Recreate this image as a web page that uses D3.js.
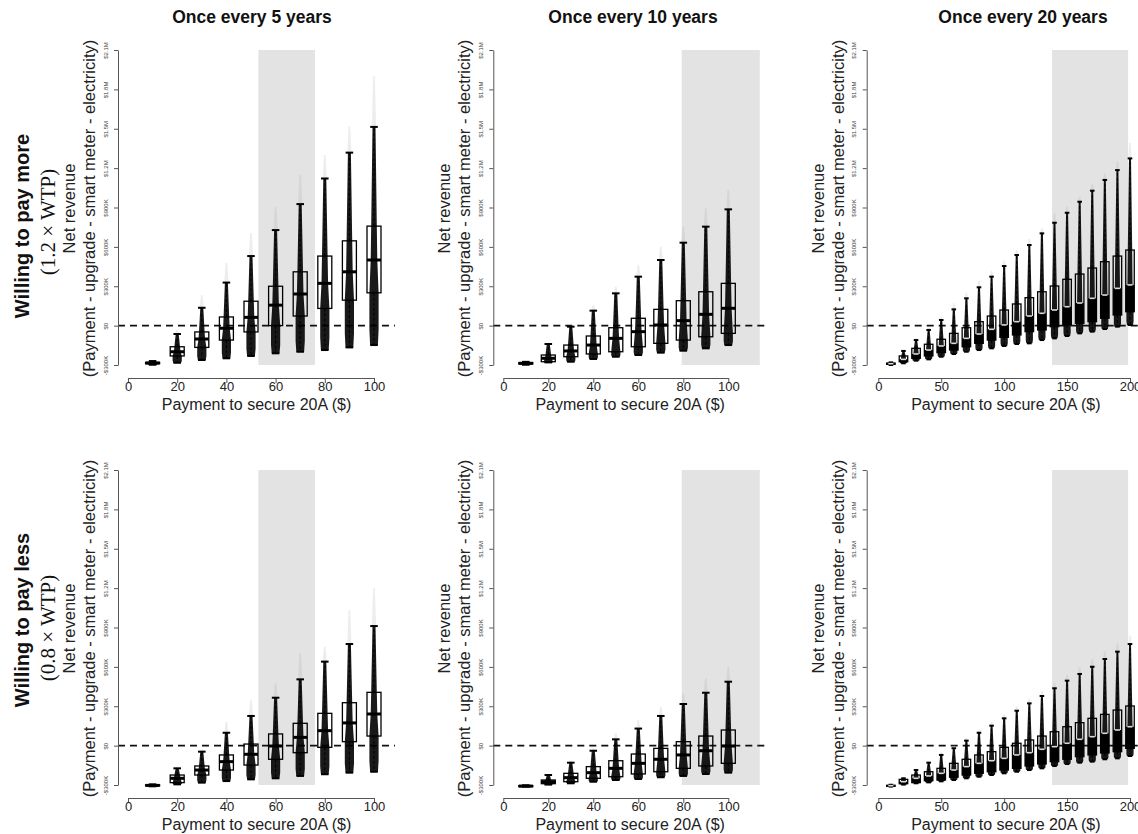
<!DOCTYPE html>
<html>
<head>
<meta charset="utf-8">
<script src="https://cdn.jsdelivr.net/npm/d3@7"></script>
<style>
  body { margin: 0; background: #fff; }
  svg { display: block; font-family: "Liberation Sans", Arial, sans-serif; }
</style>
</head>
<body>
<svg id="chart" width="1138" height="834"></svg>
<script>
// payments ($) for each box
var payments = [10, 20, 30, 40, 50, 60, 70, 80, 90, 100];
var payments20 = [10, 20, 30, 40, 50, 60, 70, 80, 90, 100, 110, 120, 130, 140, 150, 160, 170, 180, 190, 200];

// net revenue in $K, each row: [whisker low, Q1, median, Q3, whisker high, max point]
var more5 = [
  [-298, -290, -285, -280, -270, -266],
  [-283, -231, -199, -161, -64, -34],
  [-262, -166, -102, -48, 136, 233],
  [-249, -110, -20, 66, 328, 477],
  [-231, -48, 63, 186, 530, 706],
  [-211, 0, 156, 300, 728, 904],
  [-199, 73, 241, 410, 926, 1150],
  [-186, 131, 322, 530, 1121, 1300],
  [-166, 194, 410, 646, 1318, 1520],
  [-148, 250, 500, 758, 1514, 1900]
];
var more10 = [
  [-298, -292, -287, -282, -276, -272],
  [-280, -275, -249, -224, -140, -130],
  [-275, -237, -193, -148, -8, 10],
  [-254, -216, -148, -79, 114, 157],
  [-237, -199, -97, -16, 246, 297],
  [-224, -161, -46, 56, 373, 462],
  [-206, -135, 5, 124, 500, 601],
  [-191, -110, 38, 190, 632, 754],
  [-173, -85, 86, 258, 754, 894],
  [-148, -59, 132, 322, 886, 1033]
];
var more20 = [
  [-300, -295, -290, -285, -280, -276],
  [-287, -275, -257, -231, -193, -185],
  [-267, -249, -216, -173, -110, -95],
  [-257, -231, -186, -142, -33, -15],
  [-237, -206, -155, -104, 43, 65],
  [-216, -186, -135, -59, 124, 170],
  [-199, -161, -97, -16, 208, 251],
  [-186, -135, -64, 30, 292, 340],
  [-173, -110, -28, 73, 373, 419],
  [-155, -89, 5, 119, 454, 495],
  [-140, -71, 30, 165, 538, 576],
  [-135, -46, 73, 213, 614, 660],
  [-110, -33, 94, 258, 703, 741],
  [-97, -8, 119, 302, 784, 856],
  [-79, 5, 144, 353, 860, 906],
  [-59, 18, 172, 393, 944, 982],
  [-46, 30, 208, 439, 1028, 1080],
  [-26, 56, 233, 487, 1110, 1160],
  [-8, 81, 284, 530, 1185, 1250],
  [5, 106, 310, 576, 1274, 1391]
];
var less5 = [
  [-310, -306, -303, -299, -295, -292],
  [-295, -282, -249, -224, -173, -160],
  [-282, -224, -186, -155, -46, -30],
  [-270, -186, -122, -71, 98, 182],
  [-257, -148, -66, 12, 226, 348],
  [-249, -104, -3, 89, 365, 475],
  [-231, -54, 63, 170, 505, 703],
  [-218, -13, 114, 246, 640, 754],
  [-206, 30, 173, 327, 774, 1033],
  [-199, 73, 241, 406, 911, 1199]
];
var less10 = [
  [-312, -310, -308, -305, -302, -300],
  [-297, -290, -275, -262, -224, -215],
  [-287, -275, -244, -211, -130, -115],
  [-275, -249, -206, -160, -39, -20],
  [-262, -237, -173, -115, 48, 94],
  [-254, -216, -135, -64, 130, 195],
  [-241, -199, -104, -21, 226, 297],
  [-231, -173, -71, 30, 317, 399],
  [-216, -155, -39, 73, 403, 513],
  [-206, -135, -3, 119, 487, 601]
];
var less20 = [
  [-312, -308, -305, -302, -298, -295],
  [-297, -290, -275, -257, -249, -240],
  [-287, -282, -249, -224, -186, -175],
  [-280, -267, -231, -199, -130, -115],
  [-272, -262, -211, -173, -71, -50],
  [-262, -241, -186, -135, -20, 5],
  [-249, -224, -160, -104, 38, 60],
  [-237, -211, -135, -71, 98, 125],
  [-224, -199, -115, -46, 152, 180],
  [-211, -186, -97, -13, 208, 240],
  [-199, -173, -71, 18, 266, 300],
  [-186, -155, -54, 43, 322, 360],
  [-173, -140, -28, 73, 378, 420],
  [-155, -122, -8, 106, 437, 480],
  [-140, -104, 18, 144, 495, 540],
  [-130, -84, 48, 175, 546, 600],
  [-122, -71, 68, 208, 601, 660],
  [-104, -56, 94, 238, 660, 720],
  [-97, -46, 119, 271, 716, 780],
  [-79, -21, 144, 302, 774, 840]
];

// shaded payment ranges per column
var shades = [[53, 76], [79.3, 114], [138, 198.5]];

var colTitles = ["Once every 5 years", "Once every 10 years", "Once every 20 years"];
var rowTitles = ["Willing  to pay more", "Willing  to pay less"];
var rowSubs = ["(1.2 \u00D7 WTP)", "(0.8 \u00D7 WTP)"];
var yTicks = [-300, 0, 300, 600, 900, 1200, 1500, 1800, 2100];
var yTickLabels = ["-$300K", "$0", "$300K", "$600K", "$900K", "$1.2M", "$1.5M", "$1.8M", "$2.1M"];

var svg = d3.select("#chart");

var cols = [
  { x0: 128, x1: 374, dom: [0, 100], axisX: 118, right: 395, ticks: [0, 20, 40, 60, 80, 100], boxW: 14, cats: payments, titleX: 252 },
  { x0: 503.3, x1: 728.3, dom: [0, 100], axisX: 493.3, right: 767, ticks: [0, 20, 40, 60, 80, 100], boxW: 14, cats: payments, titleX: 633 },
  { x0: 878.3, x1: 1130, dom: [0, 200], axisX: 866.7, right: 1145, ticks: [0, 50, 100, 150, 200], boxW: 8.5, cats: payments20, titleX: 1023 }
];
var rows = [
  { top: 50, bottom: 365, labelY: 226 },
  { top: 470, bottom: 785, labelY: 620 }
];
var panelData = [[more5, more10, more20], [less5, less10, less20]];

function drawPanel(ci, ri) {
  var col = cols[ci], row = rows[ri], data = panelData[ri][ci];
  var narrowStyle = ci === 2;
  var x = d3.scaleLinear().domain(col.dom).range([col.x0, col.x1]);
  var y = d3.scaleLinear().domain([-300, 2100]).range([row.bottom, row.top]);
  var g = svg.append("g");

  // shaded band
  g.append("rect")
    .attr("x", x(shades[ci][0]))
    .attr("width", x(shades[ci][1]) - x(shades[ci][0]))
    .attr("y", y(2100))
    .attr("height", y(-300) - y(2100))
    .attr("fill", "#e3e3e3");

  // zero line
  g.append("line")
    .attr("x1", col.axisX).attr("x2", col.right)
    .attr("y1", y(0)).attr("y2", y(0))
    .attr("stroke", "#111").attr("stroke-width", 1.8)
    .attr("stroke-dasharray", "7,5");

  var wide = narrowStyle ? 3.6 : 4.6;
  var mid = narrowStyle ? 2.6 : 3.3;
  var thin = narrowStyle ? 1 : 1.5;

  var area = d3.area()
    .y(function (d) { return y(d.v); })
    .x0(function (d) { return d.c - d.w; })
    .x1(function (d) { return d.c + d.w; });

  data.forEach(function (d, i) {
    var cx = x(col.cats[i]);
    var bw = col.boxW;
    var lo = d[0], q1 = d[1], med = d[2], q3 = d[3], hi = d[4], mx = d[5];

    // faint points above the whisker
    g.append("path")
      .attr("d", area([{ v: hi, w: thin + 0.6, c: cx }, { v: mx, w: 0.8, c: cx }]))
      .attr("fill", "#9a9a9a").attr("opacity", 0.18);

    // dense points
    g.append("path")
      .attr("d", area([
        { v: lo, w: wide * 0.85, c: cx },
        { v: lo + (q1 - lo) * 0.3, w: wide, c: cx },
        { v: q1, w: wide, c: cx },
        { v: med, w: mid, c: cx },
        { v: q3, w: mid * 0.85, c: cx },
        { v: hi, w: thin, c: cx }
      ]))
      .attr("fill", "#000").attr("opacity", 0.9);

    // whiskers
    g.append("line").attr("x1", cx).attr("x2", cx).attr("y1", y(q3)).attr("y2", y(hi))
      .attr("stroke", "#000").attr("stroke-width", 1).attr("stroke-dasharray", "3,2");
    g.append("line").attr("x1", cx).attr("x2", cx).attr("y1", y(q1)).attr("y2", y(lo))
      .attr("stroke", "#000").attr("stroke-width", 1).attr("stroke-dasharray", "3,2");
    g.append("line").attr("x1", cx - bw * 0.27).attr("x2", cx + bw * 0.27)
      .attr("y1", y(hi)).attr("y2", y(hi)).attr("stroke", "#000").attr("stroke-width", 2);
    g.append("line").attr("x1", cx - bw * 0.27).attr("x2", cx + bw * 0.27)
      .attr("y1", y(lo)).attr("y2", y(lo)).attr("stroke", "#000").attr("stroke-width", 2);

    if (narrowStyle) {
      g.append("rect").attr("x", cx - bw / 2).attr("width", bw)
        .attr("y", y(med)).attr("height", Math.max(0, y(q1) - y(med)))
        .attr("fill", "#000");
    }

    // box
    g.append("rect")
      .attr("x", cx - bw / 2).attr("width", bw)
      .attr("y", y(q3)).attr("height", Math.max(1, y(q1) - y(q3)))
      .attr("fill", "none").attr("stroke", "#000").attr("stroke-width", 1.3);

    // median
    if (narrowStyle) {
      g.append("line").attr("x1", cx - bw * 0.3).attr("x2", cx + bw * 0.3)
        .attr("y1", y(med)).attr("y2", y(med))
        .attr("stroke", "#fff").attr("stroke-width", 1.6).attr("opacity", 0.85);
    } else {
      g.append("line").attr("x1", cx - bw / 2).attr("x2", cx + bw / 2)
        .attr("y1", y(med)).attr("y2", y(med))
        .attr("stroke", "#000").attr("stroke-width", 3);
    }
  });

  // y axis
  var ya = g.append("g")
    .attr("transform", "translate(" + col.axisX + ",0)")
    .call(d3.axisLeft(y).tickValues(yTicks).tickSize(4).tickSizeOuter(0)
      .tickFormat(function (d, i) { return yTickLabels[i]; }));
  ya.select(".domain").attr("stroke", "#555");
  ya.selectAll(".tick line").attr("stroke", "#555");
  ya.selectAll(".tick text")
    .attr("x", 0).attr("dy", 0)
    .attr("transform", "translate(-10.5,0) rotate(-90)")
    .attr("text-anchor", "middle")
    .attr("font-size", 6).attr("fill", "#444")
    .attr("font-family", "Liberation Sans, Arial, sans-serif");

  // x axis
  var xa = g.append("g")
    .attr("transform", "translate(0," + (row.bottom + 13) + ")")
    .call(d3.axisBottom(x).tickValues(col.ticks).tickSize(5).tickSizeOuter(0));
  xa.select(".domain").attr("stroke", "#555");
  xa.selectAll(".tick line").attr("stroke", "#555");
  xa.selectAll(".tick text")
    .attr("y", 4)
    .attr("font-size", 13).attr("fill", "#222")
    .attr("font-family", "Liberation Sans, Arial, sans-serif");

  var midX = (col.axisX + col.right) / 2;
  g.append("text")
    .attr("x", midX).attr("y", row.bottom + 44.5)
    .attr("text-anchor", "middle").attr("font-size", 16).attr("fill", "#222")
    .text("Payment to secure 20A ($)");

  var midY = (row.top + row.bottom) / 2 + 1;
  g.append("text")
    .attr("transform", "translate(" + (col.axisX - 49) + "," + midY + ") rotate(-90)")
    .attr("text-anchor", "middle").attr("dominant-baseline", "central")
    .attr("font-size", 16.5).attr("fill", "#222")
    .text("Net revenue");
  g.append("text")
    .attr("transform", "translate(" + (col.axisX - 29) + "," + midY + ") rotate(-90)")
    .attr("text-anchor", "middle").attr("dominant-baseline", "central")
    .attr("font-size", 16.5).attr("fill", "#222")
    .text("(Payment - upgrade - smart meter - electricity)");
}

for (var r = 0; r < 2; r++) {
  for (var c = 0; c < 3; c++) drawPanel(c, r);
}

// column titles
svg.selectAll(".coltitle").data(colTitles).enter().append("text")
  .attr("x", function (d, i) { return cols[i].titleX; })
  .attr("y", 23)
  .attr("text-anchor", "middle").attr("font-weight", "bold").attr("font-size", 17.5)
  .attr("fill", "#111")
  .text(function (d) { return d; });

// row titles
rowTitles.forEach(function (t, i) {
  svg.append("text")
    .attr("transform", "translate(22," + rows[i].labelY + ") rotate(-90)")
    .attr("text-anchor", "middle").attr("dominant-baseline", "central")
    .attr("font-weight", "bold").attr("font-size", 20).attr("fill", "#111")
    .text(t);
  svg.append("text")
    .attr("transform", "translate(48," + (rows[i].labelY + (i === 0 ? -4 : 8)) + ") rotate(-90)")
    .attr("text-anchor", "middle").attr("dominant-baseline", "central")
    .attr("font-family", "Liberation Serif, Times New Roman, serif")
    .attr("font-size", 21).attr("fill", "#111")
    .text(rowSubs[i]);
});
</script>
</body>
</html>
